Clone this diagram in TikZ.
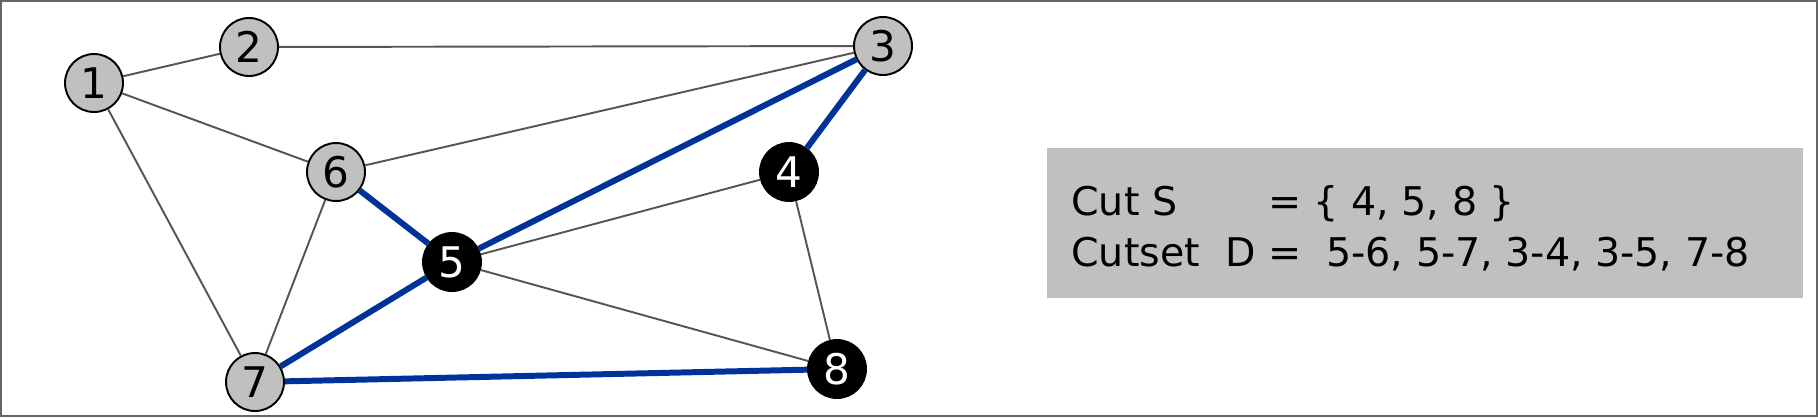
\documentclass[tikz,border=0pt]{standalone}
\usepackage{fontspec}
\setmainfont{DejaVu Sans}
\usepackage{tikz}
\usetikzlibrary{positioning}
\definecolor{nodegray}{HTML}{C0C0C0}
\definecolor{edgegray}{HTML}{555555}
\definecolor{cutblue}{HTML}{003399}
\definecolor{framegray}{HTML}{666666}
\tikzset{
  vtx/.style={
    circle, minimum size=1.16cm, inner sep=0pt,
    draw=black, line width=1.1pt,
    fill=nodegray, font=\fontsize{24}{24}\selectfont,
  },
  cutvtx/.style={
    vtx, fill=black, text=white,
  },
  edge/.style={draw=edgegray, line width=1.1pt},
  cutedge/.style={draw=cutblue, line width=3.4pt},
  infobox/.style={
    rectangle, fill=nodegray, inner sep=0pt,
    minimum width=15.12cm, minimum height=3cm,
  },
}

\begin{document}
\begin{tikzpicture}[x=0.02cm, y=-0.02cm]

  \useasboundingbox (0,0) rectangle (1818,417);
  \draw[framegray, line width=1.1pt] (1,1) rectangle (1817,416);

  % vertices
  \node[vtx] (n1) at (94,83) {1};
  \node[vtx] (n2) at (249,47) {2};
  \node[vtx] (n3) at (883,46) {3};
  \node[cutvtx] (n4) at (789,172) {4};
  \node[cutvtx] (n5) at (452,262) {5};
  \node[vtx] (n6) at (336,172) {6};
  \node[vtx] (n7) at (255,382) {7};
  \node[cutvtx] (n8) at (837,369) {8};

  % edges
  \draw[edge] (n1) -- (n2);
  \draw[edge] (n2) -- (n3);
  \draw[edge] (n1) -- (n6);
  \draw[edge] (n1) -- (n7);
  \draw[edge] (n6) -- (n3);
  \draw[edge] (n6) -- (n7);
  \draw[edge] (n5) -- (n4);
  \draw[edge] (n5) -- (n8);
  \draw[edge] (n4) -- (n8);

  % cut edges
  \draw[cutedge] (n5) -- (n6);
  \draw[cutedge] (n5) -- (n7);
  \draw[cutedge] (n3) -- (n4);
  \draw[cutedge] (n3) -- (n5);
  \draw[cutedge] (n7) -- (n8);

  % description
  \node[infobox] (box) at (1425,223) {};
  \node[anchor=west, inner sep=0pt, font=\fontsize{22.5}{29}\selectfont]
    (desc) at (1071,231) {%
    \begin{tabular}{@{}l@{\ }l@{}}
      Cut S & = \{ 4, 5, 8 \}\\
      Cutset\ \ D & = \ 5-6, 5-7, 3-4, 3-5, 7-8
    \end{tabular}};

\end{tikzpicture}
\end{document}
